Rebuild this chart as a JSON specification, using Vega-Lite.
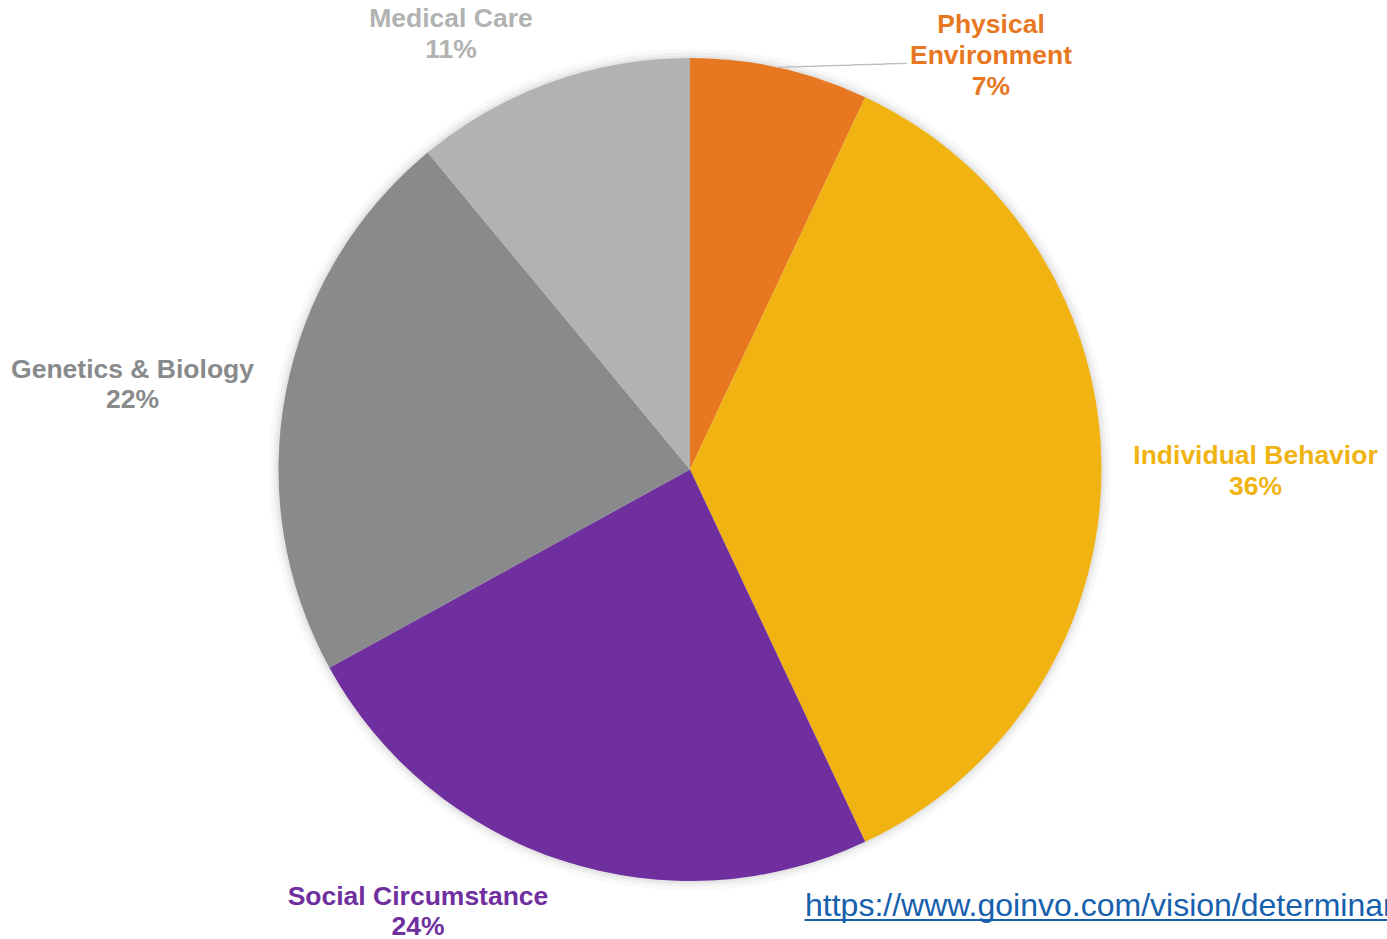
{
  "$schema": "https://vega.github.io/schema/vega-lite/v6.json",
  "width": 1380,
  "height": 939,
  "autosize": {"type": "none"},
  "padding": {"left": 0, "top": 0, "right": 7, "bottom": 0},
  "background": "#ffffff",
  "config": {"view": {"stroke": null}},
  "data": {
    "values": [
      {"category": "Physical Environment", "value": 7, "order": 1, "label": "Physical\nEnvironment\n7%"},
      {"category": "Individual Behavior", "value": 36, "order": 2, "label": "Individual Behavior\n36%"},
      {"category": "Social Circumstance", "value": 24, "order": 3, "label": "Social Circumstance\n24%"},
      {"category": "Genetics & Biology", "value": 22, "order": 4, "label": "Genetics & Biology\n22%"},
      {"category": "Medical Care", "value": 11, "order": 5, "label": "Medical Care\n11%"}
    ]
  },
  "layer": [
    {
      "data": {"values": [{"ring": "shadow"}]},
      "mark": {"type": "arc", "theta": 0, "theta2": 6.2832, "outerRadius": 421, "fill": "#000000", "fillOpacity": 0.025},
      "encoding": {}
    },
    {
      "data": {"values": [{"ring": "shadow"}]},
      "mark": {"type": "arc", "theta": 0, "theta2": 6.2832, "outerRadius": 417, "fill": "#000000", "fillOpacity": 0.035},
      "encoding": {}
    },
    {
      "data": {"values": [{"ring": "shadow"}]},
      "mark": {"type": "arc", "theta": 0, "theta2": 6.2832, "outerRadius": 414, "fill": "#000000", "fillOpacity": 0.045},
      "encoding": {}
    },
    {
      "mark": {"type": "arc", "outerRadius": 411.5},
      "encoding": {
        "theta": {"field": "value", "type": "quantitative", "stack": true},
        "order": {"field": "order", "type": "quantitative"},
        "color": {
          "field": "category", "type": "nominal", "legend": null,
          "scale": {
            "domain": ["Physical Environment", "Individual Behavior", "Social Circumstance", "Genetics & Biology", "Medical Care"],
            "range": ["#E87722", "#F1B312", "#6F2F9F", "#888A8C", "#B1B2B2"]
          }
        }
      }
    },
    {
      "mark": {"type": "text", "radius": 447.3, "dx": 203.4, "dy": 0.2, "align": "center", "baseline": "alphabetic", "font": "Liberation Sans", "fontSize": 26.5, "fontWeight": "bold", "lineBreak": "\n", "lineHeight": 30.8},
      "encoding": {
        "theta": {"field": "value", "type": "quantitative", "stack": true},
        "order": {"field": "order", "type": "quantitative"},
        "color": {"field": "category", "type": "nominal", "legend": null},
        "text": {"condition": {"test": "datum.category === 'Physical Environment'", "field": "label"}, "value": ""}
      }
    },
    {
      "mark": {"type": "text", "radius": 565.5, "dx": 0, "dy": -5.5, "align": "center", "baseline": "alphabetic", "font": "Liberation Sans", "fontSize": 26.5, "fontWeight": "bold", "lineBreak": "\n", "lineHeight": 30.5},
      "encoding": {
        "theta": {"field": "value", "type": "quantitative", "stack": true},
        "order": {"field": "order", "type": "quantitative"},
        "color": {"field": "category", "type": "nominal", "legend": null},
        "text": {"condition": {"test": "datum.category === 'Individual Behavior'", "field": "label"}, "value": ""}
      }
    },
    {
      "mark": {"type": "text", "radius": 457.9, "dx": -130.5, "dy": 0, "align": "center", "baseline": "alphabetic", "font": "Liberation Sans", "fontSize": 26.5, "fontWeight": "bold", "lineBreak": "\n", "lineHeight": 30.5},
      "encoding": {
        "theta": {"field": "value", "type": "quantitative", "stack": true},
        "order": {"field": "order", "type": "quantitative"},
        "color": {"field": "category", "type": "nominal", "legend": null},
        "text": {"condition": {"test": "datum.category === 'Social Circumstance'", "field": "label"}, "value": ""}
      }
    },
    {
      "mark": {"type": "text", "radius": 567.5, "dx": 0, "dy": 14.8, "align": "center", "baseline": "alphabetic", "font": "Liberation Sans", "fontSize": 26.5, "fontWeight": "bold", "lineBreak": "\n", "lineHeight": 30.5},
      "encoding": {
        "theta": {"field": "value", "type": "quantitative", "stack": true},
        "order": {"field": "order", "type": "quantitative"},
        "color": {"field": "category", "type": "nominal", "legend": null},
        "text": {"condition": {"test": "datum.category === 'Genetics & Biology'", "field": "label"}, "value": ""}
      }
    },
    {
      "mark": {"type": "text", "radius": 470.3, "dx": -79.7, "dy": 0, "align": "center", "baseline": "alphabetic", "font": "Liberation Sans", "fontSize": 26.5, "fontWeight": "bold", "lineBreak": "\n", "lineHeight": 30.5},
      "encoding": {
        "theta": {"field": "value", "type": "quantitative", "stack": true},
        "order": {"field": "order", "type": "quantitative"},
        "color": {"field": "category", "type": "nominal", "legend": null},
        "text": {"condition": {"test": "datum.category === 'Medical Care'", "field": "label"}, "value": ""}
      }
    },
    {
      "mark": {"type": "text", "radius": 412, "dx": -2, "dy": -3.3, "angle": -1.8, "align": "left", "baseline": "alphabetic", "font": "Liberation Sans", "fontSize": 19.3, "color": "#BDBDBD"},
      "encoding": {
        "theta": {"field": "value", "type": "quantitative", "stack": true},
        "order": {"field": "order", "type": "quantitative"},
        "detail": {"field": "category", "type": "nominal"},
        "text": {"condition": {"test": "datum.category === 'Physical Environment'", "value": "____________"}, "value": ""}
      }
    },
    {
      "mark": {"type": "text", "radius": 457.9, "dx": 256.5, "dy": 10.7, "align": "left", "baseline": "alphabetic", "font": "Liberation Sans", "fontSize": 32, "color": "#1660AD"},
      "encoding": {
        "theta": {"field": "value", "type": "quantitative", "stack": true},
        "order": {"field": "order", "type": "quantitative"},
        "detail": {"field": "category", "type": "nominal"},
        "text": {"condition": {"test": "datum.category === 'Social Circumstance'", "value": "https://www.goinvo.com/vision/determinants-of-health/"}, "value": ""}
      }
    },
    {
      "mark": {"type": "text", "radius": 457.9, "dx": 256.5, "dy": 10.2, "align": "left", "baseline": "alphabetic", "font": "Liberation Sans", "fontSize": 32, "color": "#1660AD"},
      "encoding": {
        "theta": {"field": "value", "type": "quantitative", "stack": true},
        "order": {"field": "order", "type": "quantitative"},
        "detail": {"field": "category", "type": "nominal"},
        "text": {"condition": {"test": "datum.category === 'Social Circumstance'", "value": "________________________________________"}, "value": ""}
      }
    }
  ]
}
